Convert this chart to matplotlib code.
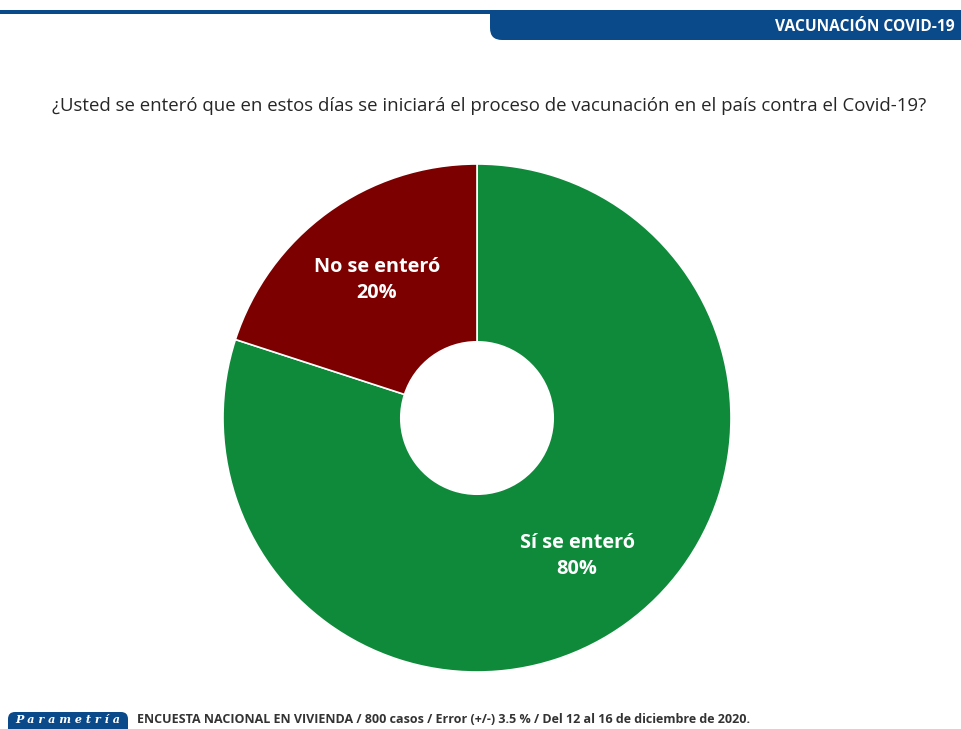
import numpy as np
import matplotlib.pyplot as plt
from matplotlib.patches import FancyBboxPatch, Rectangle

# data
categories = ["Sí se enteró", "No se enteró"]
values = [80, 20]
colors = ["#0f8a3b", "#7d0000"]

title = "VACUNACIÓN COVID-19"
question = "¿Usted se enteró que en estos días se iniciará el proceso de vacunación en el país contra el Covid-19?"
footer = "ENCUESTA NACIONAL EN VIVIENDA / 800 casos / Error (+/-) 3.5 % / Del 12 al 16 de diciembre de 2020."
brand = "Parametría"

W, H = 961, 729
BLUE = "#0b4a8a"

fig = plt.figure(figsize=(W / 100, H / 100), dpi=100)
fig.patch.set_facecolor("white")

# full-figure overlay in pixel coords (y from top)
bg = fig.add_axes([0, 0, 1, 1])
bg.set_xlim(0, W)
bg.set_ylim(H, 0)
bg.axis("off")

# header line + tab
bg.add_patch(Rectangle((0, 10), W, 4, color=BLUE, lw=0))
bg.add_patch(FancyBboxPatch((490, 10), 520, 30, boxstyle="round,pad=0,rounding_size=12",
                            color=BLUE, lw=0))
bg.add_patch(Rectangle((490, 10), 40, 14, color=BLUE, lw=0))
bg.text(955, 27, title, ha="right", va="center", color="white",
        fontsize=11.2, fontweight="bold", family="Open Sans")

bg.text(52, 106, question, ha="left", va="center", color="#262626",
        fontsize=13.4, family="Open Sans")

# footer
bg.add_patch(FancyBboxPatch((8, 712), 120, 40, boxstyle="round,pad=0,rounding_size=7",
                            color=BLUE, lw=0))
bg.text(68, 719.5, " ".join(brand), ha="center", va="center", color="white",
        fontsize=8, fontweight="bold", style="italic", family="DejaVu Serif")
bg.text(137, 719.5, footer, ha="left", va="center", color="#333333",
        fontsize=9, fontweight="bold", family="Open Sans")

# donut
cx, cy, r = 477, 418, 254
ax = fig.add_axes([(cx - r) / W, (H - cy - r) / H, 2 * r / W, 2 * r / H])
wedges, texts = ax.pie(values, colors=colors, startangle=90, counterclock=False,
                       radius=1, wedgeprops=dict(width=0.7, edgecolor="white", linewidth=1.2))
ax.set_xlim(-1, 1)
ax.set_ylim(-1, 1)
ax.set_aspect("equal")
ax.axis("off")

for w, cat, v in zip(wedges, categories, values):
    mid = np.deg2rad((w.theta1 + w.theta2) / 2)
    d = 0.67
    ax.text(d * np.cos(mid), d * np.sin(mid), f"{cat}\n{v}%", ha="center", va="center",
            color="white", fontsize=14.3, fontweight="bold", family="Open Sans",
            linespacing=1.4)

fig.savefig("out.png", dpi=100)
